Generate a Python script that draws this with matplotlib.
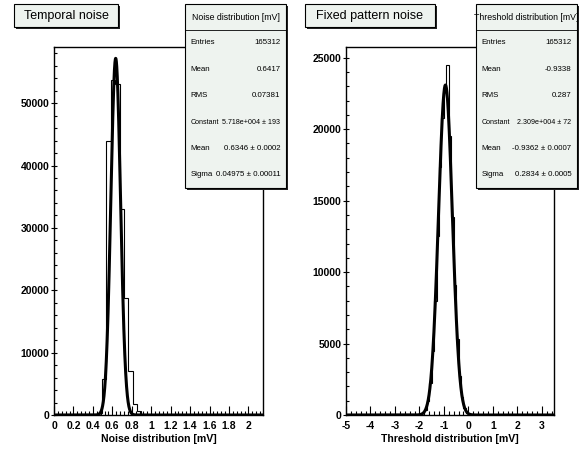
import numpy as np
import matplotlib
matplotlib.use('Agg')
import matplotlib.pyplot as plt
from matplotlib.patches import Rectangle
from matplotlib.ticker import MultipleLocator, FuncFormatter

plt.rcParams['font.family'] = ['Liberation Sans Narrow', 'Liberation Sans', 'DejaVu Sans']

W, H = 582, 455

# Temporal noise: histogram bins of 0.045 mV, first listed bin is number 10
noise_bin_width = 0.045
noise_first_bin = 10
noise_counts = [300, 5800, 44000, 53700, 53000, 33000, 18800, 7000, 1700, 600, 200]
noise_range = (0.0, 2.15)
noise_ymax = 59000
noise_fit_const = 5.718e4
noise_fit_mean = 0.6346
noise_fit_sigma = 0.04975
noise_header = 'Noise distribution [mV]'
noise_stats = [('Entries', '165312'), ('Mean', '0.6417'), ('RMS', '0.07381'),
               ('Constant', '5.718e+004 ± 193'), ('Mean', '0.6346 ± 0.0002'),
               ('Sigma', '0.04975 ± 0.00011')]

# Fixed pattern noise: bins of 0.1 mV from -5, first listed bin is number 29
thr_bin_width = 0.1
thr_first_bin = 29
thr_counts = [10, 38, 128, 374, 968, 2210, 4466, 7952, 12510, 17370, 20800, 23100,
              24500, 19500, 13870, 9125, 5301, 2720, 1231, 492, 174, 54, 15, 4]
thr_range = (-5.0, 3.5)
thr_ymax = 25750
thr_fit_const = 2.309e4
thr_fit_mean = -0.9362
thr_fit_sigma = 0.2834
thr_header = 'Threshold distribution [mV]'
thr_stats = [('Entries', '165312'), ('Mean', '-0.9338'), ('RMS', '0.287'),
             ('Constant', '2.309e+004 ± 72'), ('Mean', '-0.9362 ± 0.0007'),
             ('Sigma', '0.2834 ± 0.0005')]

BOX = '#eef3ef'


def fx(x):
    return x / W


def fy(y):
    return 1 - y / H


def box(fig, x0, y0, x1, y1, shadow=2):
    fig.add_artist(Rectangle((fx(x0 + shadow), fy(y1 + shadow)), fx(x1 - x0), (y1 - y0) / H,
                             transform=fig.transFigure, facecolor='#222222', edgecolor='none'))
    fig.add_artist(Rectangle((fx(x0), fy(y1)), fx(x1 - x0), (y1 - y0) / H,
                             transform=fig.transFigure, facecolor=BOX, edgecolor='black', lw=0.8))


def stats_box(fig, x0, x1, header, rows):
    box(fig, x0, 4, x1, 188)
    fig.add_artist(plt.Line2D([fx(x0), fx(x1)], [fy(30), fy(30)], transform=fig.transFigure,
                              color='black', lw=0.6))
    fig.text(fx((x0 + x1) / 2), fy(17), header, ha='center', va='center', fontsize=6.3)
    for i, (lab, val) in enumerate(rows):
        y = 43 + 26.4 * i
        fs = 5.1 if lab == 'Constant' else 5.7
        fig.text(fx(x0 + 5.5), fy(y), lab, ha='left', va='center', fontsize=fs)
        fig.text(fx(x1 - 5.5), fy(y), val, ha='right', va='center', fontsize=fs)


def draw_panel(ax, width, first, counts, xr, ymax, c, m, s, major, minor, ymaj, ymin, xlabel):
    nbins = int(round((xr[1] - xr[0]) / width)) + 1
    vals = np.zeros(nbins)
    vals[first:first + len(counts)] = counts
    edges = xr[0] + width * np.arange(nbins + 1)
    ax.stairs(vals, edges, color='black', lw=0.8)
    xs = np.linspace(xr[0], xr[1], 2000)
    ax.plot(xs, c * np.exp(-0.5 * ((xs - m) / s) ** 2), color='black', lw=2.2)
    ax.set_xlim(*xr)
    ax.set_ylim(0, ymax)
    ax.xaxis.set_major_locator(MultipleLocator(major))
    ax.xaxis.set_minor_locator(MultipleLocator(minor))
    ax.yaxis.set_major_locator(MultipleLocator(ymaj))
    ax.yaxis.set_minor_locator(MultipleLocator(ymin))
    ax.xaxis.set_major_formatter(FuncFormatter(lambda v, p: '%g' % round(v, 3)))
    ax.yaxis.set_major_formatter(FuncFormatter(lambda v, p: '%d' % v))
    ax.tick_params(axis='x', which='major', direction='in', length=6.5, width=0.8, pad=4.5)
    ax.tick_params(axis='x', which='minor', direction='in', length=3.2, width=0.8)
    ax.tick_params(axis='y', which='major', direction='inout', length=4.5, width=0.8, pad=1)
    ax.tick_params(axis='y', which='minor', direction='in', length=2.2, width=0.8)
    for lab in ax.get_xticklabels() + ax.get_yticklabels():
        lab.set_fontsize(7.5)
        lab.set_fontweight('bold')
    for sp in ax.spines.values():
        sp.set_linewidth(1.0)
    ax.set_xlabel(xlabel, fontsize=7.6, fontweight='bold', labelpad=2)


fig = plt.figure(figsize=(W / 100, H / 100), dpi=100)
fig.patch.set_facecolor('white')

ax1 = fig.add_axes([fx(54), fy(415), fx(263 - 54), (415 - 47) / H])
draw_panel(ax1, noise_bin_width, noise_first_bin, noise_counts, noise_range, noise_ymax,
           noise_fit_const, noise_fit_mean, noise_fit_sigma, 0.2, 0.04, 10000, 2000,
           noise_header)

ax2 = fig.add_axes([fx(346), fy(415), fx(554 - 346), (415 - 47) / H])
draw_panel(ax2, thr_bin_width, thr_first_bin, thr_counts, thr_range, thr_ymax,
           thr_fit_const, thr_fit_mean, thr_fit_sigma, 1, 0.2, 5000, 1000,
           thr_header)

# title boxes
box(fig, 14, 4, 118, 27)
fig.text(fx(66), fy(16), 'Temporal noise', ha='center', va='center', fontsize=9)
box(fig, 305, 4, 435, 27)
fig.text(fx(370), fy(16), 'Fixed pattern noise', ha='center', va='center', fontsize=9)

stats_box(fig, 185, 286, noise_header, noise_stats)
stats_box(fig, 476, 577, thr_header, thr_stats)

fig.savefig('out.png', dpi=100)
